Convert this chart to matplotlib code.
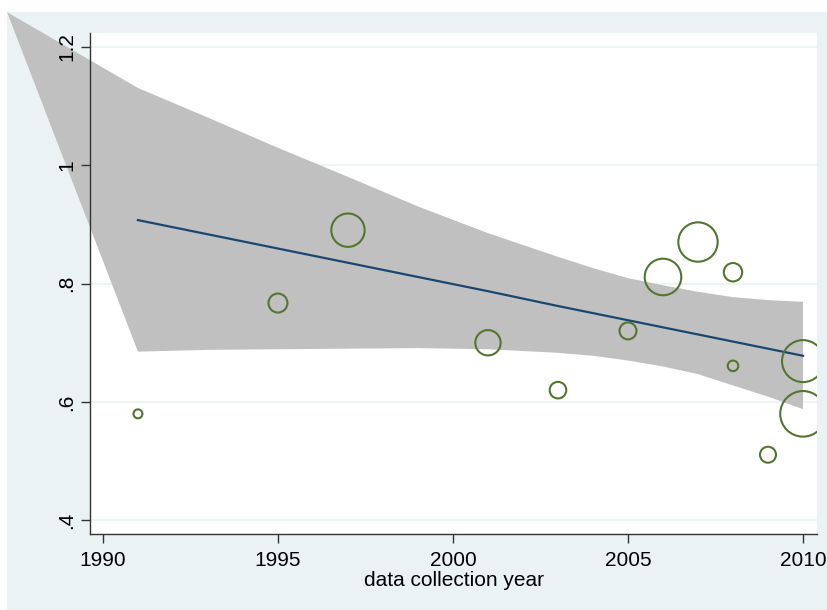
import matplotlib
matplotlib.use("Agg")
import matplotlib.pyplot as plt
from matplotlib.patches import Rectangle, Polygon

# ---- data ----
years = [1991, 1995, 1997, 2001, 2003, 2005, 2006, 2007, 2008, 2008, 2009, 2010, 2010]
effect = [0.580, 0.767, 0.890, 0.700, 0.620, 0.720, 0.811, 0.870, 0.819, 0.661, 0.511, 0.669, 0.580]
weights = [20, 90, 279, 161, 69, 72, 335, 388, 85, 28, 64, 441, 520]

fit_years = [1991, 1995, 1997, 2001, 2003, 2005, 2006, 2007, 2008, 2009, 2010]
fit_values = [0.907, 0.859, 0.835, 0.787, 0.762, 0.738, 0.726, 0.714, 0.702, 0.690, 0.678]

band_years = [1991, 1993, 1995, 1997, 1999, 2001, 2003, 2004, 2005, 2006, 2007, 2008, 2009, 2010]
ci_upper = [1.130, 1.080, 1.029, 0.980, 0.930, 0.885, 0.845, 0.826, 0.809, 0.797, 0.786, 0.777, 0.772, 0.769]
ci_lower = [0.685, 0.688, 0.689, 0.690, 0.691, 0.689, 0.683, 0.678, 0.670, 0.660, 0.647, 0.628, 0.609, 0.588]
ci_apex_year = 1987.26   # stray band vertex at the upper-left corner
ci_apex_value = 1.258

x_ticks = [1990, 1995, 2000, 2005, 2010]
x_tick_labels = ["1990", "1995", "2000", "2005", "2010"]
y_ticks = [0.4, 0.6, 0.8, 1.0, 1.2]
y_tick_labels = [".4", ".6", ".8", "1", "1.2"]
x_label = "data collection year"

# ---- style ----
BG = "#EAF2F3"
NAVY = "#1A476F"
GREEN = "#55752F"
BAND = "#C0C0C0"
plt.rcParams["font.family"] = ["Liberation Sans", "DejaVu Sans"]
FS = 15

W, H = 827, 610
fig = plt.figure(figsize=(W / 100, H / 100), dpi=100, facecolor="white")
fig.patches.append(Rectangle((7 / W, 0), 1 - 7 / W, (H - 12) / H,
                             transform=fig.transFigure, facecolor=BG,
                             edgecolor="none", zorder=-10))

ax = fig.add_axes([90 / W, (H - 534) / H, (817 - 90) / W, (534 - 33) / H])
ax.set_facecolor("white")
ax.set_xlim(1989.63, 2010.40)
ax.set_ylim(0.3772, 1.2228)

# grid lines (under the band)
for yv in y_ticks:
    ax.axhline(yv, color=BG, lw=1.2, zorder=0.3)

# CI band
band_x = [ci_apex_year] + band_years + band_years[::-1]
band_y = [ci_apex_value] + ci_upper + ci_lower[::-1]
ax.add_patch(Polygon(list(zip(band_x, band_y)), closed=True, facecolor=BAND,
                     edgecolor="none", zorder=1, clip_on=False))

# fitted line
ax.plot(fit_years, fit_values, color=NAVY, lw=1.6, zorder=3)

# bubbles
sizes = [w * 2.07 for w in weights]
ax.scatter(years, effect, s=sizes, facecolors="none", edgecolors=GREEN,
           linewidths=1.5, zorder=4)

# axes styling
for side in ["top", "right"]:
    ax.spines[side].set_visible(False)
for side in ["left", "bottom"]:
    ax.spines[side].set_color("#333333")
    ax.spines[side].set_linewidth(1.0)
    ax.spines[side].set_zorder(5)

ax.set_xticks(x_ticks)
ax.set_xticklabels(x_tick_labels, fontsize=FS)
ax.set_yticks(y_ticks)
ax.set_yticklabels(y_tick_labels, fontsize=FS, rotation=90, va="center")
ax.tick_params(axis="x", length=6.5, width=1.0, color="#333333", pad=6)
ax.tick_params(axis="y", length=6.5, width=1.0, color="#333333", pad=3.3)
ax.set_xlabel(x_label, fontsize=FS, labelpad=0.5)

fig.savefig("out.png", dpi=100, facecolor="white")
